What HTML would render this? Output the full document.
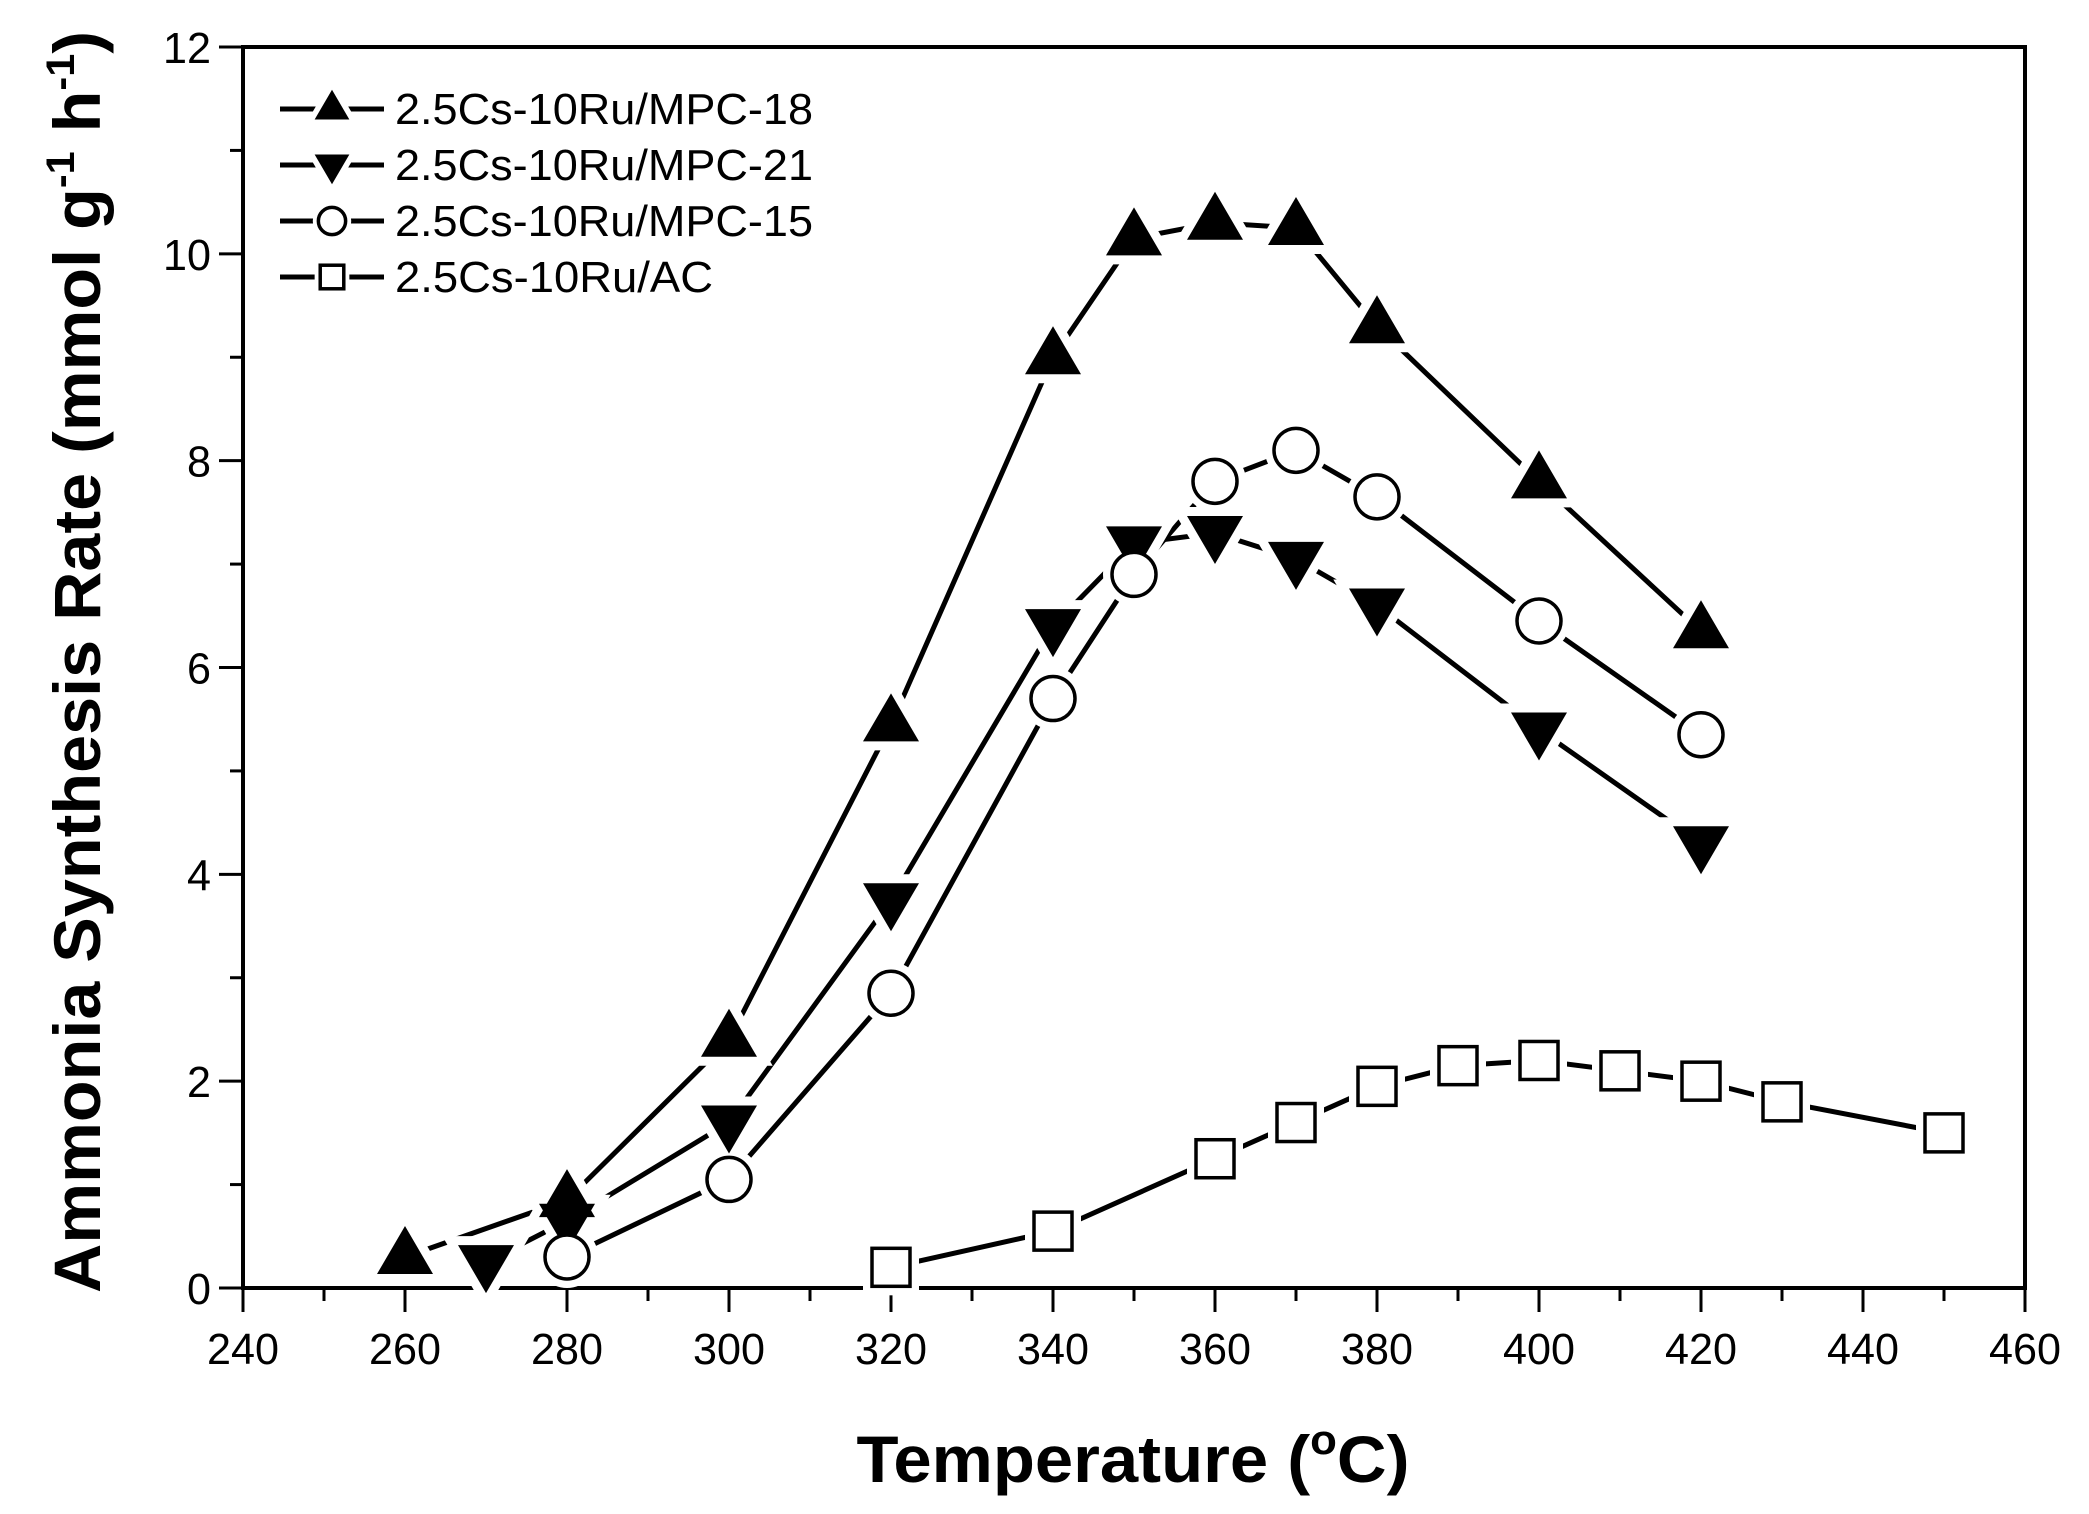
<!DOCTYPE html>
<html><head><meta charset="utf-8"><style>html,body{margin:0;padding:0;background:#fff}svg{display:block}</style></head>
<body>
<svg id="s" xmlns="http://www.w3.org/2000/svg" width="2089" height="1514" viewBox="0 0 2089 1514" font-family="'Liberation Sans', sans-serif">
<rect width="2089" height="1514" fill="#fff"/>
<g id="g"></g>
<text x="1133" y="1482" font-size="66" font-weight="bold" text-anchor="middle" textLength="553" lengthAdjust="spacingAndGlyphs">Temperature (<tspan font-size="42" dy="-28">o</tspan><tspan dy="28">C)</tspan></text>
<text transform="translate(100,662) rotate(-90)" font-size="66" font-weight="bold" text-anchor="middle" textLength="1262" lengthAdjust="spacingAndGlyphs">Ammonia Synthesis Rate (mmol g<tspan font-size="40" dy="-26">-1</tspan><tspan dy="26"> h</tspan><tspan font-size="40" dy="-26">-1</tspan><tspan dy="26">)</tspan></text>
</svg>
<script>
const X0=243,X1=2025,Y0=1288,Y1=47;
const sx=t=>X0+(t-240)*(X1-X0)/220, sy=v=>Y0-v*(Y0-Y1)/12;
let h='';
h+=`<rect x="${X0}" y="${Y1}" width="${X1-X0}" height="${Y0-Y1}" fill="none" stroke="#000" stroke-width="4"/>`;
for(let t=240;t<=460;t+=10){const x=sx(t);const L=t%20==0?24:13;h+=`<line x1="${x}" y1="${Y0}" x2="${x}" y2="${Y0+L}" stroke="#000" stroke-width="3"/>`;
 if(t%20==0)h+=`<text x="${x}" y="${Y0+76}" font-size="44" text-anchor="middle" textLength="72" lengthAdjust="spacingAndGlyphs">${t}</text>`;}
for(let v=0;v<=12;v+=1){const y=sy(v);const L=v%2==0?24:13;h+=`<line x1="${X0}" y1="${y}" x2="${X0-L}" y2="${y}" stroke="#000" stroke-width="3"/>`;
 if(v%2==0)h+=`<text x="${X0-32}" y="${y+16}" font-size="44" text-anchor="end" textLength="${v>=10?48:24}" lengthAdjust="spacingAndGlyphs">${v}</text>`;}
const S=[
['tu',[[260,.3],[280,.85],[300,2.4],[320,5.45],[340,9.0],[350,10.15],[360,10.3],[370,10.25],[380,9.3],[400,7.8],[420,6.35]]],
['td',[[270,.25],[280,.65],[300,1.6],[320,3.75],[340,6.4],[350,7.2],[360,7.3],[370,7.05],[380,6.6],[400,5.4],[420,4.3]]],
['c',[[280,.3],[300,1.05],[320,2.85],[340,5.7],[350,6.9],[360,7.8],[370,8.1],[380,7.65],[400,6.45],[420,5.35]]],
['sq',[[320,.2],[340,.55],[360,1.25],[370,1.6],[380,1.95],[390,2.15],[400,2.2],[410,2.1],[420,2.0],[430,1.8],[450,1.5]]]];
function mk(t,x,y,k,halo){
 let a=halo?`fill="#fff" stroke="#fff" stroke-width="${18*k}"`:'';
 if(t=='tu')return `<polygon points="${x},${y-31*k} ${x-28*k},${y+17*k} ${x+28*k},${y+17*k}" ${halo?a:'fill="#000"'}/>`;
 if(t=='td')return `<polygon points="${x},${y+31*k} ${x-28*k},${y-17*k} ${x+28*k},${y-17*k}" ${halo?a:'fill="#000"'}/>`;
 if(t=='c')return `<circle cx="${x}" cy="${y}" r="${22*k}" ${halo?a:'fill="#fff" stroke="#000" stroke-width="3.5"'}/>`;
 return `<rect x="${x-19*k}" y="${y-19*k}" width="${38*k}" height="${38*k}" ${halo?a:'fill="#fff" stroke="#000" stroke-width="3.5"'}/>`;
}
for(const [t,d] of S){
 h+=`<polyline fill="none" stroke="#000" stroke-width="5" points="${d.map(p=>sx(p[0])+','+sy(p[1])).join(' ')}"/>`;
}
for(const [t,d] of S){for(const p of d)h+=mk(t,sx(p[0]),sy(p[1]),1,true);}
for(const [t,d] of S){for(const p of d)h+=mk(t,sx(p[0]),sy(p[1]),1,false);}
const lab=['2.5Cs-10Ru/MPC-18','2.5Cs-10Ru/MPC-21','2.5Cs-10Ru/MPC-15','2.5Cs-10Ru/AC'];
const lw=[418,418,418,318];
['tu','td','c','sq'].forEach((t,i)=>{const y=109+i*56;
 h+=`<line x1="280" y1="${y}" x2="384" y2="${y}" stroke="#000" stroke-width="5"/>`;
 h+=mk(t,332,y,0.62,true)+mk(t,332,y,0.62,false);
 h+=`<text x="395" y="${y+15}" font-size="44" textLength="${lw[i]}" lengthAdjust="spacingAndGlyphs">${lab[i]}</text>`;});
document.getElementById('g').innerHTML=h;
</script>
</body></html>
